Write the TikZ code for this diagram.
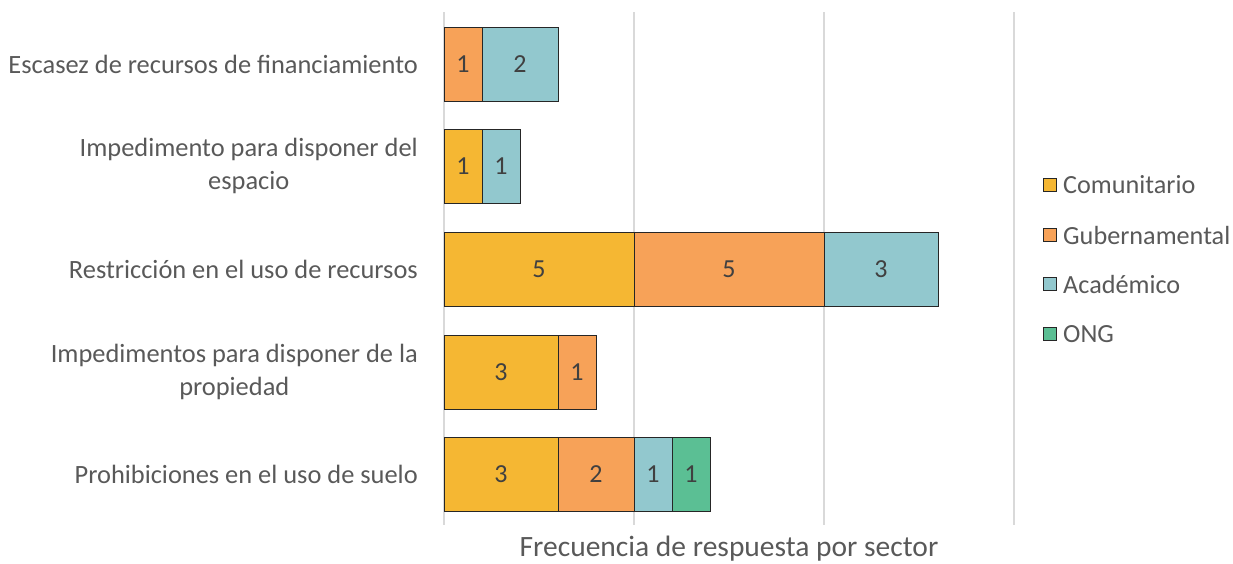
\documentclass[tikz,border=0pt]{standalone}
\usepackage{fontspec}
\setmainfont{Carlito}
\definecolor{comu}{HTML}{F5B733}
\definecolor{gube}{HTML}{F7A258}
\definecolor{acad}{HTML}{92C8CE}
\definecolor{ong}{HTML}{5BBF94}
\definecolor{txt}{HTML}{595959}
\definecolor{val}{HTML}{404040}
\definecolor{grid}{HTML}{D9D9D9}
\begin{document}
\begin{tikzpicture}[x=1pt,y=-1pt,
  seg/.style={draw=black!85, line width=1pt, minimum height=74pt, inner sep=0pt, outer sep=0pt, anchor=west, text=val, font=\fontsize{26}{30}\selectfont},
  cat/.style={text=txt, font=\fontsize{26.4}{33}\selectfont, align=center, anchor=east, inner sep=0pt},
  leg/.style={draw=black!85, line width=0.9pt, minimum size=13pt, inner sep=0pt},
  legt/.style={text=txt, font=\fontsize{26.2}{30}\selectfont, anchor=west, inner sep=0pt},
  gridl/.style={draw=grid, line width=1.3pt}]
\useasboundingbox (0,0) rectangle (1233,563);
% grid
\coordinate (g0t) at (444,12); \coordinate (g0b) at (444,525);
\coordinate (g1t) at (634,12); \coordinate (g1b) at (634,525);
\coordinate (g2t) at (824,12); \coordinate (g2b) at (824,525);
\coordinate (g3t) at (1014,12); \coordinate (g3b) at (1014,525);
\draw[gridl] (g0t) -- (g0b);
\draw[gridl] (g1t) -- (g1b);
\draw[gridl] (g2t) -- (g2b);
\draw[gridl] (g3t) -- (g3b);
% row 1
\node[seg, fill=gube, minimum width=38pt] (r1b) at (444,64) {1};
\node[seg, fill=acad, minimum width=76pt] (r1c) at (r1b.east) {2};
% row 2
\node[seg, fill=comu, minimum width=38pt] (r2a) at (444,166) {1};
\node[seg, fill=acad, minimum width=38pt] (r2c) at (r2a.east) {1};
% row 3
\node[seg, fill=comu, minimum width=190pt] (r3a) at (444,269) {5};
\node[seg, fill=gube, minimum width=190pt] (r3b) at (r3a.east) {5};
\node[seg, fill=acad, minimum width=114pt] (r3c) at (r3b.east) {3};
% row 4
\node[seg, fill=comu, minimum width=114pt] (r4a) at (444,372) {3};
\node[seg, fill=gube, minimum width=38pt] (r4b) at (r4a.east) {1};
% row 5
\node[seg, fill=comu, minimum width=114pt] (r5a) at (444,474) {3};
\node[seg, fill=gube, minimum width=76pt] (r5b) at (r5a.east) {2};
\node[seg, fill=acad, minimum width=38pt] (r5c) at (r5b.east) {1};
\node[seg, fill=ong, minimum width=38pt] (r5d) at (r5c.east) {1};
% categories
\node[cat] (c1) at (418,64) {Escasez de recursos de financiamiento};
\node[cat] (c2) at (418,166) {Impedimento para disponer del\\espacio};
\node[cat] (c3) at (418,269) {Restricción en el uso de recursos};
\node[cat] (c4) at (418,372) {Impedimentos para disponer de la\\propiedad};
\node[cat] (c5) at (418,474) {Prohibiciones en el uso de suelo};
% axis title
\node[text=txt, font=\fontsize{29.5}{34}\selectfont, inner sep=0pt] (xt) at (729,549) {Frecuencia de respuesta por sector};
% legend
\node[leg, fill=comu] (l1) at (1050,185) {};
\node[legt] (l1t) at (1063,185) {Comunitario};
\node[leg, fill=gube] (l2) at (1050,235) {};
\node[legt] (l2t) at (1063,235) {Gubernamental};
\node[leg, fill=acad] (l3) at (1050,284) {};
\node[legt] (l3t) at (1063,284) {Académico};
\node[leg, fill=ong] (l4) at (1050,334) {};
\node[legt] (l4t) at (1063,334) {ONG};
\end{tikzpicture}
\end{document}
